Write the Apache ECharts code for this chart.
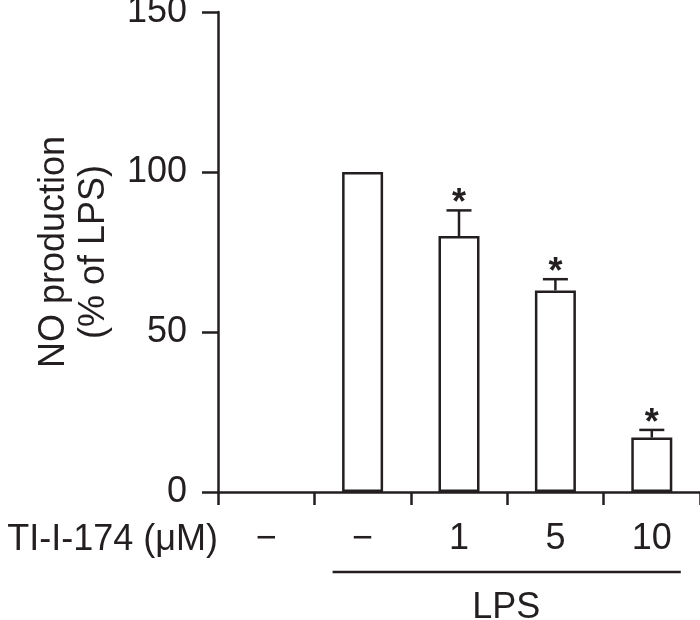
<!DOCTYPE html>
<html>
<head>
<meta charset="utf-8">
<script src="https://cdn.jsdelivr.net/npm/echarts@6/dist/echarts.min.js"></script>
<style>
  html, body { margin: 0; padding: 0; background: #fff; }
  #main { width: 700px; height: 620px; }
</style>
</head>
<body>
<div id="main"></div>
<script>
// TI-I-174 dose per group (first group has no LPS)
const doses = ['\u2212', '\u2212', '1', '5', '10'];
// NO production, % of LPS alone
const meanValues = [null, 100, 80, 63, 17];
const errValues = [null, 0, 8, 3.5, 2.4];
const significant = [false, false, true, true, true];

const ink = '#231f20';
const font = "'Liberation Sans', Arial, Helvetica, sans-serif";

const errData = meanValues
  .map((m, i) => [i, m, errValues[i], significant[i] ? 1 : 0])
  .filter((d) => d[1] !== null);

const myChart = echarts.init(document.getElementById('main'));

const option = {
  animation: false,
  grid: { left: 218, right: 0, top: 12, bottom: 128, outerBoundsMode: 'none' },
  xAxis: {
    type: 'category',
    data: doses,
    axisLine: { lineStyle: { color: ink, width: 2.5 } },
    axisTick: { show: true, interval: 0, length: 13, lineStyle: { color: ink, width: 2.5 } },
    axisLabel: { color: ink, fontSize: 36, fontFamily: font, margin: 29 },
  },
  yAxis: {
    type: 'value',
    min: 0,
    max: 150,
    interval: 50,
    name: 'NO production\n(% of LPS)',
    nameLocation: 'middle',
    nameGap: 104,
    nameTextStyle: { color: ink, fontSize: 36, fontFamily: font, lineHeight: 40 },
    splitLine: { show: false },
    axisLine: { show: true, lineStyle: { color: ink, width: 2.5 } },
    axisTick: { show: true, length: 16, lineStyle: { color: ink, width: 2.5 } },
    axisLabel: { color: ink, fontSize: 36, fontFamily: font, margin: 31 },
  },
  series: [
    {
      type: 'bar',
      data: meanValues,
      barWidth: 41,
      itemStyle: { color: '#fff', borderColor: ink, borderWidth: 2.5 },
    },
    {
      type: 'custom',
      data: errData,
      z: 3,
      renderItem: function (params, api) {
        const top = api.coord([api.value(0), api.value(1)]);
        const hi = api.coord([api.value(0), api.value(1) + api.value(2)]);
        const lineStyle = { stroke: ink, lineWidth: 2.5 };
        const children = [];
        if (api.value(2) > 0) {
          children.push({ type: 'line', shape: { x1: top[0], y1: top[1], x2: hi[0], y2: hi[1] }, style: lineStyle });
          children.push({ type: 'line', shape: { x1: hi[0] - 12.5, y1: hi[1], x2: hi[0] + 12.5, y2: hi[1] }, style: lineStyle });
        }
        if (api.value(3)) {
          children.push({
            type: 'text',
            style: {
              x: hi[0],
              y: hi[1] + 12,
              text: '*',
              fill: ink,
              font: 'bold 36px ' + font,
              textAlign: 'center',
              textVerticalAlign: 'bottom',
            },
          });
        }
        return { type: 'group', children: children };
      },
    },
  ],
};

myChart.setOption(option);

// LPS bracket under groups 2-5, and the row title
const c1 = myChart.convertToPixel({ xAxisIndex: 0 }, 1);
const c4 = myChart.convertToPixel({ xAxisIndex: 0 }, 4);
const axisY = myChart.convertToPixel({ yAxisIndex: 0 }, 0);
myChart.setOption({
  graphic: [
    {
      type: 'line',
      shape: { x1: c1 - 30, y1: axisY + 80, x2: c4 + 29, y2: axisY + 80 },
      style: { stroke: ink, lineWidth: 2.5 },
    },
    {
      type: 'text',
      style: {
        x: (c1 + c4) / 2 - 1,
        y: axisY + 116,
        text: 'LPS',
        fill: ink,
        font: '36px ' + font,
        textAlign: 'center',
        textVerticalAlign: 'middle',
      },
    },
    {
      type: 'text',
      style: {
        x: 218,
        y: axisY + 48,
        text: 'TI-I-174 (\u03bcM)',
        fill: ink,
        font: '36px ' + font,
        textAlign: 'right',
        textVerticalAlign: 'middle',
      },
    },
  ],
});
</script>
</body>
</html>
